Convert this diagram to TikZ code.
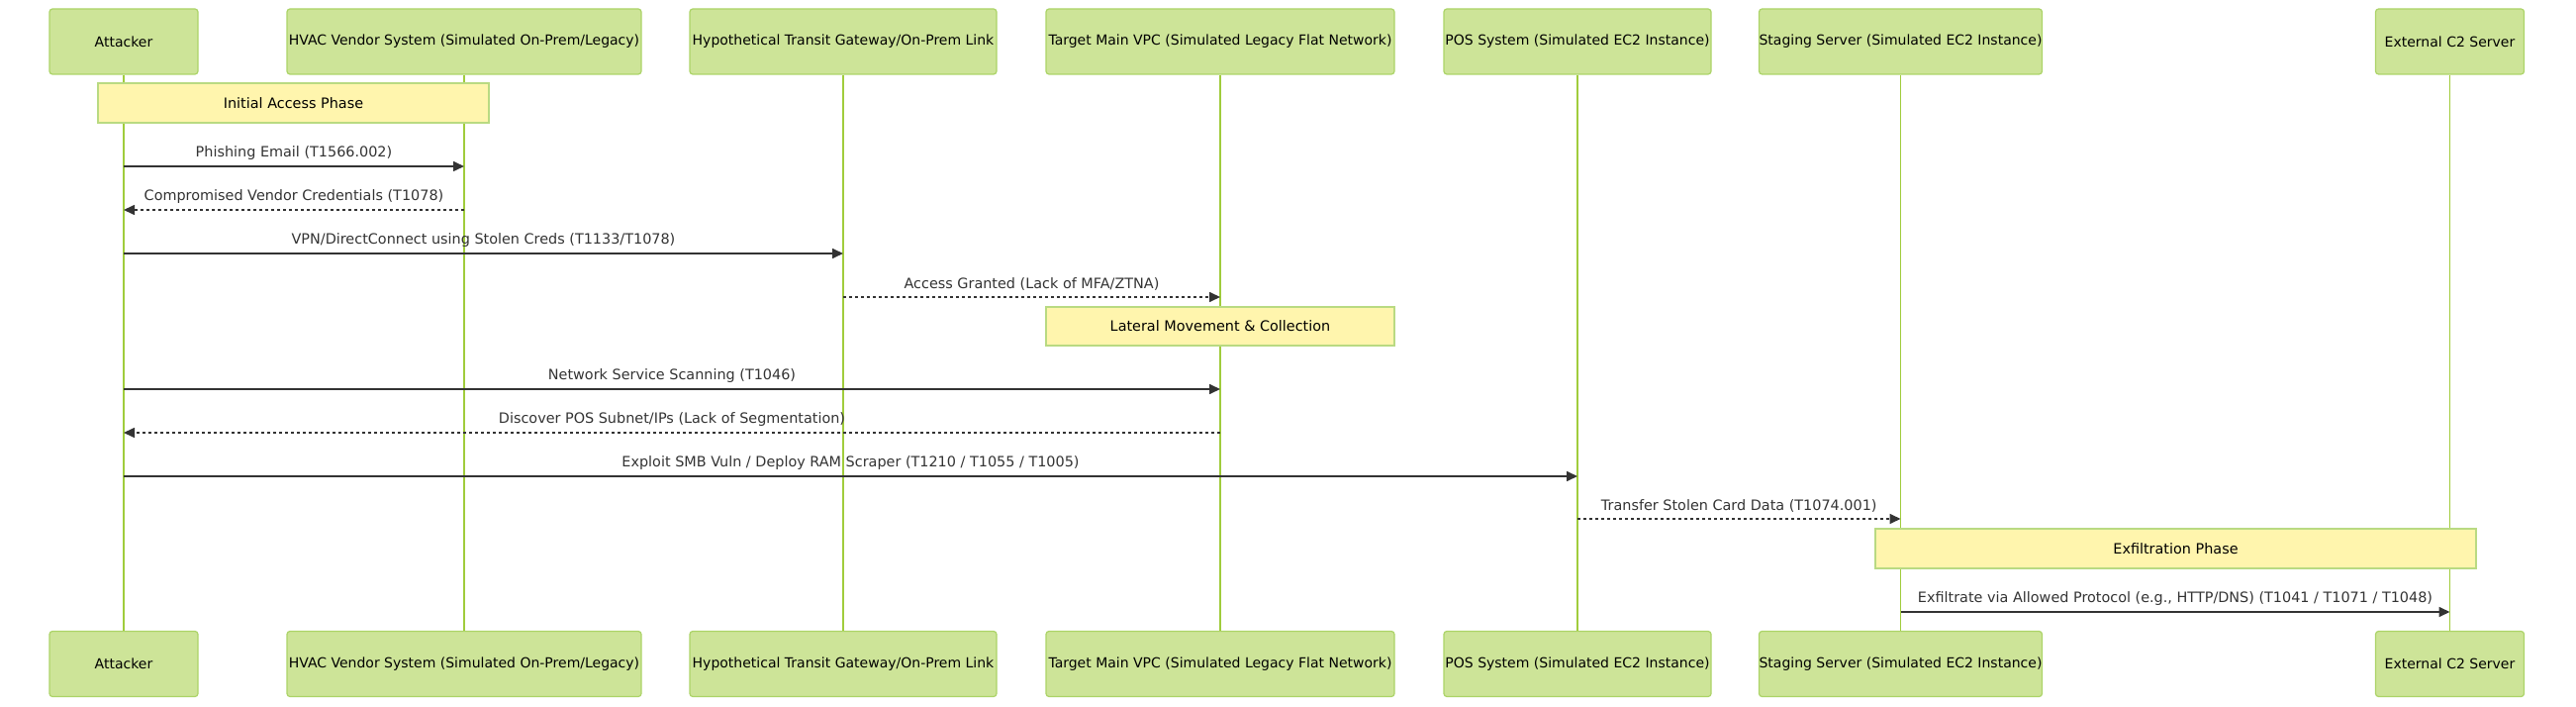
\documentclass[tikz,border=0pt]{standalone}
\usepackage{fontspec}
\setmainfont{DejaVu Sans}
\usetikzlibrary{arrows.meta}
\definecolor{ActorCol}{RGB}{205,228,152}
\definecolor{ActorEdge}{RGB}{172,212,104}
\definecolor{LifeCol}{RGB}{160,204,60}
\definecolor{NoteCol}{RGB}{255,245,173}
\definecolor{NoteEdge}{RGB}{185,218,130}
\definecolor{MsgCol}{RGB}{51,51,51}
\tikzstyle{actor} = [rectangle, rounded corners=3pt, minimum height=66pt, inner sep=0pt, fill=ActorCol, draw=ActorEdge, line width=1.2pt, font=\fontsize{14}{17}\selectfont]
\tikzstyle{phase} = [rectangle, minimum height=40pt, inner sep=0pt, fill=NoteCol, draw=NoteEdge, line width=1.2pt, font=\fontsize{14.4}{17}\selectfont]
\tikzstyle{life} = [LifeCol, line width=1.8pt]
\tikzstyle{call} = [-{Triangle[length=11pt,width=10pt]}, MsgCol, line width=1.6pt]
\tikzstyle{reply} = [call, dash pattern=on 3pt off 3pt]
\tikzstyle{msg} = [midway, above=6pt, inner sep=0pt, text=MsgCol, font=\fontsize{14.4}{17}\selectfont]

\begin{document}
\begin{tikzpicture}[x=1pt,y=-1pt]
                    \useasboundingbox (0,0) rectangle (2603,714);

                    \node[actor, minimum width=150pt] (attT) at (125,42) {Attacker};
                    \node[actor, minimum width=358pt] (hvacT) at (469,42) {HVAC Vendor System (Simulated On-Prem/Legacy)};
                    \node[actor, minimum width=310pt] (gwT) at (852,42) {Hypothetical Transit Gateway/On-Prem Link};
                    \node[actor, minimum width=352pt] (vpcT) at (1233,42) {Target Main VPC (Simulated Legacy Flat Network)};
                    \node[actor, minimum width=270pt] (posT) at (1594,42) {POS System (Simulated EC2 Instance)};
                    \node[actor, minimum width=283pt] (stgT) at (1920.5,42) {Staging Server (Simulated EC2 Instance)};
                    \node[actor, minimum width=150pt] (ctwoT) at (2475.5,42) {External C2 Server};

                    \node[actor, minimum width=150pt] (attB) at (125,670.5) {Attacker};
                    \node[actor, minimum width=358pt] (hvacB) at (469,670.5) {HVAC Vendor System (Simulated On-Prem/Legacy)};
                    \node[actor, minimum width=310pt] (gwB) at (852,670.5) {Hypothetical Transit Gateway/On-Prem Link};
                    \node[actor, minimum width=352pt] (vpcB) at (1233,670.5) {Target Main VPC (Simulated Legacy Flat Network)};
                    \node[actor, minimum width=270pt] (posB) at (1594,670.5) {POS System (Simulated EC2 Instance)};
                    \node[actor, minimum width=283pt] (stgB) at (1920.5,670.5) {Staging Server (Simulated EC2 Instance)};
                    \node[actor, minimum width=150pt] (ctwoB) at (2475.5,670.5) {External C2 Server};

                    \draw[life] (attT.south) -- (attB.north);
                    \draw[life] (hvacT.south) -- (hvacB.north);
                    \draw[life] (gwT.south) -- (gwB.north);
                    \draw[life] (vpcT.south) -- (vpcB.north);
                    \draw[life] (posT.south) -- (posB.north);
                    \draw[life] (stgT.south) -- (stgB.north);
                    \draw[life] (ctwoT.south) -- (ctwoB.north);

                    \node[phase, minimum width=395pt] (initial) at (296.5,104) {Initial Access Phase};
                    \node[phase, minimum width=352pt, minimum height=39pt] (lateral) at (1233,329.5) {Lateral Movement \& Collection};
                    \node[phase, minimum width=607pt] (exfil) at (2198.5,554) {Exfiltration Phase};

                    \draw[call] (attT |- 0,168) -- (hvacT |- 0,168) node[msg] {Phishing Email (T1566.002)};
                    \draw[reply] (hvacT |- 0,212) -- (attT |- 0,212) node[msg] {Compromised Vendor Credentials (T1078)};
                    \draw[call] (attT |- 0,256) -- (gwT |- 0,256) node[msg] {VPN/DirectConnect using Stolen Creds (T1133/T1078)};
                    \draw[reply] (gwT |- 0,300) -- (vpcT |- 0,300) node[msg] {Access Granted (Lack of MFA/ZTNA)};
                    \draw[call] (attT |- 0,393) -- (vpcT |- 0,393) node[msg] {Network Service Scanning (T1046)};
                    \draw[reply] (vpcT |- 0,437) -- (attT |- 0,437) node[msg] {Discover POS Subnet/IPs (Lack of Segmentation)};
                    \draw[call] (attT |- 0,481) -- (posT |- 0,481) node[msg] {Exploit SMB Vuln / Deploy RAM Scraper (T1210 / T1055 / T1005)};
                    \draw[reply] (posT |- 0,524) -- (stgT |- 0,524) node[msg] {Transfer Stolen Card Data (T1074.001)};
                    \draw[call] (stgT |- 0,618) -- (ctwoT |- 0,618) node[msg] {Exfiltrate via Allowed Protocol (e.g., HTTP/DNS) (T1041 / T1071 / T1048)};

                \end{tikzpicture}
\end{document}
